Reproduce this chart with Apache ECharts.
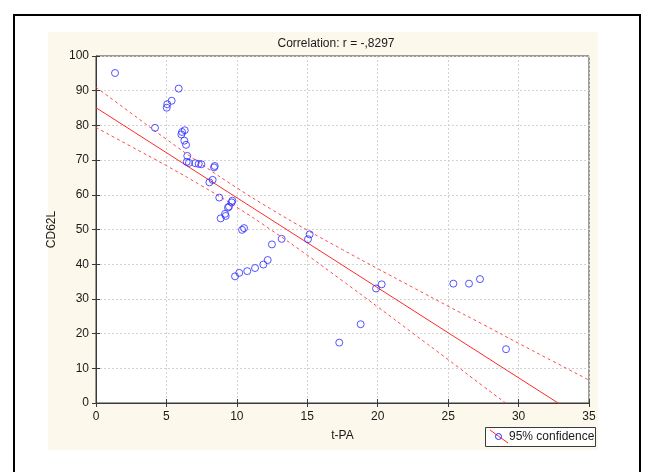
<!DOCTYPE html>
<html>
<head>
<meta charset="utf-8">
<script src="https://cdn.jsdelivr.net/npm/echarts@6/dist/echarts.min.js"></script>
<style>
  html, body { margin: 0; padding: 0; background: #ffffff; }
  #chart { width: 651px; height: 472px; }
</style>
</head>
<body>
<div id="chart"></div>
<script>
// t-PA vs CD62L observations
const tpa = [1.35, 4.19, 5.02, 5.06, 5.37, 5.87, 6.06, 6.11, 6.30, 6.27, 6.39, 6.48, 6.44, 6.60,
  7.05, 7.29, 7.48, 8.05, 8.28, 8.38, 8.43, 8.75, 8.85, 9.16, 9.21, 9.37, 9.44, 9.63, 9.68,
  9.87, 10.17, 10.37, 10.51, 10.74, 11.29, 11.88, 12.19, 12.49, 13.18, 15.05, 15.17,
  17.27, 18.79, 19.88, 20.28, 25.37, 26.48, 27.26, 29.11];
const cd62l = [95.1, 79.3, 85.1, 86.1, 87.1, 90.6, 77.4, 78.1, 78.6, 75.6, 74.4, 71.2, 69.5, 69.2,
  69.1, 68.9, 68.8, 63.6, 64.3, 67.9, 68.3, 59.2, 53.2, 54.5, 53.9, 56.3, 56.6, 57.8, 58.3,
  36.5, 37.5, 49.9, 50.4, 38.0, 38.9, 39.9, 41.2, 45.7, 47.3, 47.2, 48.6,
  17.4, 22.7, 33.0, 34.2, 34.4, 34.4, 35.7, 15.5];

// fitted regression line (end points)
const fitX = [0, 35];
const fitY = [85.1, -5.7];

// 95% confidence band
const bandX = [0, 2.5, 5, 7.5, 10, 12.5, 15, 17.5, 20, 22.5, 25, 27.5, 30, 32.5, 35];
const bandUpper = [91.0, 83.5, 76.0, 68.8, 62.0, 55.7, 49.8, 44.2, 38.7, 33.3, 27.9, 22.6, 17.2, 11.9, 6.6];
const bandLower = [79.4, 73.9, 68.4, 62.6, 56.4, 49.7, 42.6, 35.2, 27.7, 20.1, 12.5, 4.8, -2.8, -10.5, -18.2];

const titleText = 'Correlation: r = -,8297';
const xName = 't-PA';
const yName = 'CD62L';
const legendText = '95% confidence';

const zip = (a, b) => a.map((v, i) => [v, b[i]]);

const FONT = '"Liberation Sans", Arial, sans-serif';
const TXT = '#1a1a1a';
const RED = '#ff2a2a';
const RED_DASH = '#ff4a4a';
const BLUE = '#2a2aff';

const chart = echarts.init(document.getElementById('chart'), null, { renderer: 'canvas' });

const gridLine = { show: true, lineStyle: { color: '#d2d2d2', type: [2, 2], width: 1 } };

chart.setOption({
  animation: false,
  backgroundColor: '#ffffff',
  title: {
    text: titleText,
    left: 331,
    top: 33,
    textAlign: 'center',
    textStyle: { fontFamily: FONT, fontSize: 12, fontWeight: 'normal', color: TXT }
  },
  grid: {
    left: 96, right: 62, top: 56, bottom: 69,
    show: true, backgroundColor: '#ffffff', borderColor: '#3a3a3a', borderWidth: 1
  },
  xAxis: [{
    type: 'value', min: 0, max: 35, interval: 5,
    name: xName, nameLocation: 'middle', nameGap: 27,
    nameTextStyle: { fontFamily: FONT, fontSize: 12, color: TXT },
    axisLine: { show: true, onZero: false, lineStyle: { color: '#3a3a3a', width: 1 } },
    axisTick: { show: true, inside: true, length: 4, lineStyle: { color: '#3a3a3a' } },
    axisLabel: { fontFamily: FONT, fontSize: 12, color: TXT, margin: 8 },
    splitLine: gridLine
  }, {
    type: 'value', min: 0, max: 35, interval: 5, position: 'top',
    axisLine: { show: false },
    axisTick: { show: true, inside: true, length: 4, lineStyle: { color: '#3a3a3a' } },
    axisLabel: { show: false }, splitLine: { show: false }
  }],
  yAxis: [{
    type: 'value', min: 0, max: 100, interval: 10,
    name: yName, nameLocation: 'middle', nameGap: 34, nameRotate: 90,
    nameTextStyle: { fontFamily: FONT, fontSize: 12, color: TXT },
    axisLine: { show: true, onZero: false, lineStyle: { color: '#3a3a3a', width: 1 } },
    axisTick: { show: true, inside: true, length: 4, lineStyle: { color: '#3a3a3a' } },
    axisLabel: { fontFamily: FONT, fontSize: 12, color: TXT, margin: 7 },
    splitLine: gridLine
  }, {
    type: 'value', min: 0, max: 100, interval: 10, position: 'right',
    axisLine: { show: false },
    axisTick: { show: true, inside: true, length: 4, lineStyle: { color: '#3a3a3a' } },
    axisLabel: { show: false }, splitLine: { show: false }
  }],
  series: [
    {
      type: 'line', data: zip(bandX, bandUpper), smooth: true, symbol: 'none', clip: true,
      lineStyle: { color: RED_DASH, width: 1, type: [3, 3] }, silent: true, z: 2
    },
    {
      type: 'line', data: zip(bandX, bandLower), smooth: true, symbol: 'none', clip: true,
      lineStyle: { color: RED_DASH, width: 1, type: [3, 3] }, silent: true, z: 2
    },
    {
      type: 'line', data: zip(fitX, fitY), symbol: 'none', clip: true,
      lineStyle: { color: RED, width: 1 }, silent: true, z: 3
    },
    {
      type: 'scatter', data: zip(tpa, cd62l), symbol: 'circle', symbolSize: 7,
      itemStyle: { color: 'rgba(0,0,0,0)', borderColor: BLUE, borderWidth: 1 }, z: 4
    }
  ],
  graphic: [
    // outer frame
    { type: 'line', silent: true, z: -20, shape: { x1: 14, y1: 15, x2: 640, y2: 15 },
      style: { stroke: '#000', lineWidth: 2 } },
    { type: 'line', silent: true, z: -20, shape: { x1: 14, y1: 14, x2: 14, y2: 472 },
      style: { stroke: '#000', lineWidth: 2 } },
    { type: 'line', silent: true, z: -20, shape: { x1: 640, y1: 14, x2: 640, y2: 472 },
      style: { stroke: '#000', lineWidth: 2 } },
    // panel behind the plot
    { type: 'rect', silent: true, z: -10, shape: { x: 48, y: 32, width: 550, height: 418 },
      style: { fill: '#fdf8ec' } },
    // legend
    { type: 'group', z: 100, children: [
      { type: 'rect', shape: { x: 485.5, y: 427.5, width: 110, height: 19 },
        style: { fill: '#ffffff', stroke: '#3a3a3a', lineWidth: 1 } },
      { type: 'line', shape: { x1: 490, y1: 430, x2: 508, y2: 443 },
        style: { stroke: RED, lineWidth: 1 } },
      { type: 'circle', shape: { cx: 498.5, cy: 436.5, r: 3 },
        style: { fill: 'none', stroke: BLUE, lineWidth: 1 } },
      { type: 'text', x: 509, y: 437,
        style: { text: legendText, fontFamily: FONT, fontSize: 12, fill: TXT, verticalAlign: 'middle', align: 'left' } }
    ] }
  ]
});
</script>
</body>
</html>
